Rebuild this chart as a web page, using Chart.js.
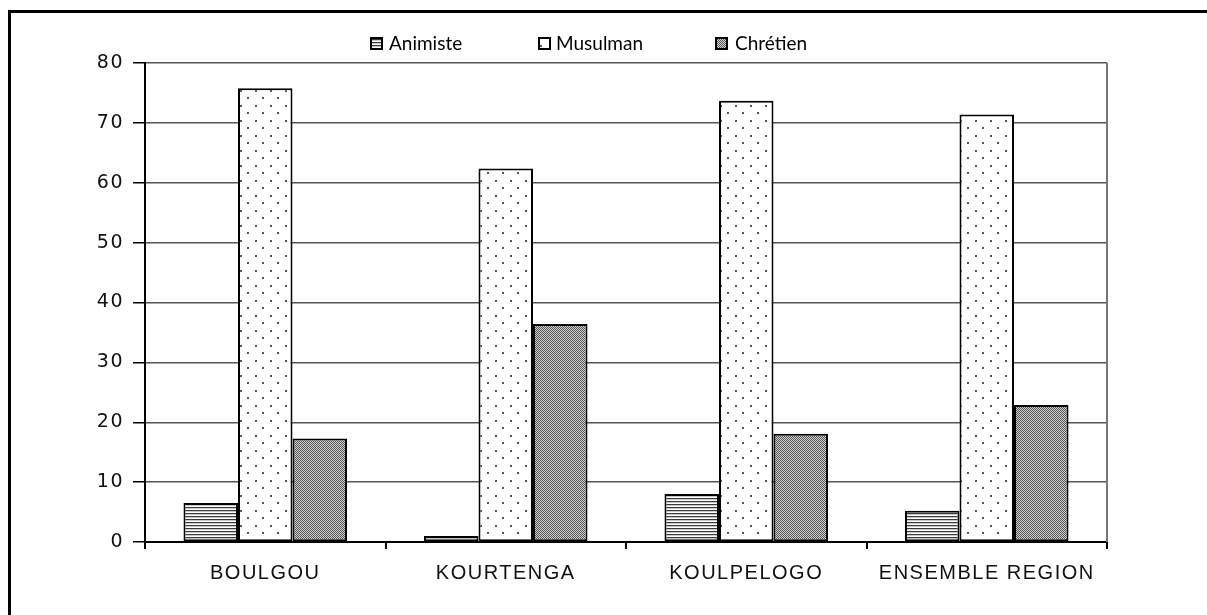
<!DOCTYPE html>
<html>
<head>
<meta charset="utf-8">
<script src="https://cdn.jsdelivr.net/npm/chart.js@4/dist/chart.umd.min.js"></script>
<style>
  html, body { margin: 0; padding: 0; background: #fff; }
  canvas { display: block; }
</style>
</head>
<body>
<canvas id="chart" width="1207" height="615"></canvas>
<script>
/* ======================
DATA
====================== */

const categories = ["BOULGOU", "KOURTENGA", "KOULPELOGO", "ENSEMBLE REGION"];
const seriesNames = ["Animiste", "Musulman", "Chrétien"];
const animiste = [6.5, 1.0, 8.0, 5.2];
const musulman = [75.8, 62.4, 73.7, 71.4];
const chretien = [17.3, 36.4, 18.1, 22.9];
const yMin = 0;
const yMax = 80;
const yStep = 10;

/* ======================
PATTERNS
====================== */

function makePattern(w, h, draw) {
  const c = document.createElement("canvas");
  c.width = w;
  c.height = h;
  const g = c.getContext("2d");
  g.fillStyle = "#fff";
  g.fillRect(0, 0, w, h);
  draw(g);
  return g.createPattern(c, "repeat");
}

// horizontal stripes
const stripePattern = makePattern(4, 3, (g) => {
  g.fillStyle = "#3a3a3a";
  g.fillRect(0, 0, 4, 1);
  g.fillStyle = "#c8c8c8";
  g.fillRect(0, 1, 4, 1);
});

// sparse staggered dots
const dotPattern = makePattern(15, 15, (g) => {
  g.fillStyle = "#555";
  g.fillRect(0, 0, 2, 2);
  g.fillRect(7, 7, 2, 2);
});

// dense checker
const checkPattern = makePattern(2, 2, (g) => {
  g.fillStyle = "#d2d2d2";
  g.fillRect(0, 0, 2, 2);
  g.fillStyle = "#555";
  g.fillRect(0, 0, 1, 1);
  g.fillRect(1, 1, 1, 1);
});

const fills = [stripePattern, dotPattern, checkPattern];

/* ======================
PLUGINS
====================== */

const framePlugin = {
  id: "frame",
  beforeDraw(chart) {
    const ctx = chart.ctx;
    ctx.save();
    ctx.fillStyle = "#fff";
    ctx.fillRect(0, 0, chart.width, chart.height);
    ctx.fillStyle = "#000";
    ctx.fillRect(8, 10, 3, chart.height - 10);
    ctx.fillRect(8, 10, chart.width - 8, 3);
    ctx.restore();
    ctx.letterSpacing = "1.5px";
  },
  afterDraw(chart) {
    const ctx = chart.ctx;
    const a = chart.chartArea;
    ctx.save();
    ctx.letterSpacing = "0px";
    ctx.strokeStyle = "#777";
    ctx.lineWidth = 2;
    ctx.beginPath();
    ctx.moveTo(a.right, a.top);
    ctx.lineTo(a.right, a.bottom);
    ctx.stroke();

    // legend
    const boxX = [371, 539, 716];
    const textX = [389, 556, 735];
    ctx.font = "19px Lato";
    ctx.textBaseline = "middle";
    ctx.textAlign = "left";
    chart.data.datasets.forEach((ds, i) => {
      ctx.fillStyle = ds.backgroundColor;
      ctx.fillRect(boxX[i], 38, 11, 11);
      ctx.strokeStyle = "#000";
      ctx.lineWidth = 2;
      ctx.strokeRect(boxX[i], 38, 11, 11);
      ctx.fillStyle = "#000";
      ctx.fillText(ds.label, textX[i], 44);
    });
    ctx.restore();
  },
};

/* ======================
CHART
====================== */

const seriesValues = [animiste, musulman, chretien];

new Chart(document.getElementById("chart"), {
  type: "bar",
  data: {
    labels: categories,
    datasets: seriesNames.map((name, i) => ({
      label: name,
      data: seriesValues[i],
      backgroundColor: fills[i],
      borderColor: "#000",
      borderWidth: 2,
      borderSkipped: false,
      categoryPercentage: 0.68,
      barPercentage: 1.0,
    })),
  },
  options: {
    responsive: false,
    animation: false,
    devicePixelRatio: 1,
    layout: { padding: { left: 0, right: 100, top: 63, bottom: 0 } },
    plugins: {
      legend: { display: false },
      tooltip: { enabled: false },
    },
    scales: {
      x: {
        offset: true,
        grid: {
          display: true,
          offset: true,
          drawOnChartArea: false,
          drawTicks: true,
          tickLength: 7,
          tickColor: "#000",
          lineWidth: 2,
        },
        border: { display: true, color: "#000", width: 2 },
        ticks: {
          color: "#111",
          padding: 12,
          font: { family: "Liberation Sans", size: 20 },
          maxRotation: 0,
          autoSkip: false,
        },
        afterFit(scale) {
          scale.height = 73;
        },
      },
      y: {
        min: yMin,
        max: yMax,
        ticks: {
          stepSize: yStep,
          color: "#111",
          padding: 9,
          font: { family: "DejaVu Sans", size: 19 },
        },
        grid: {
          color: "#555",
          lineWidth: 1.5,
          tickLength: 12,
          tickColor: "#000",
        },
        border: { display: true, color: "#000", width: 2 },
        afterFit(scale) {
          scale.width = 145;
        },
      },
    },
  },
  plugins: [framePlugin],
});
</script>
</body>
</html>
